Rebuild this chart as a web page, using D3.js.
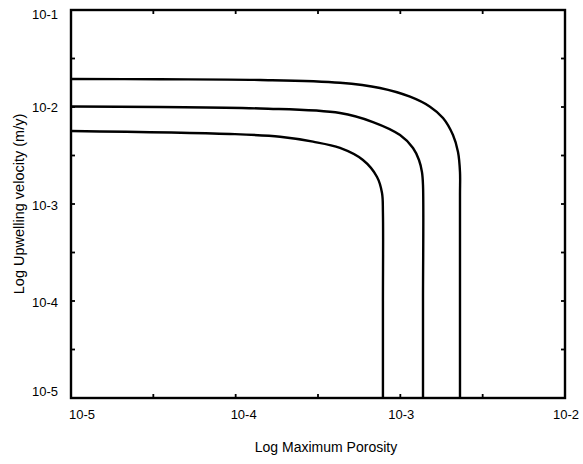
<!DOCTYPE html>
<html>
<head>
<meta charset="utf-8">
<script src="https://cdn.jsdelivr.net/npm/d3@7"></script>
<style>
  html, body { margin: 0; padding: 0; background: #fff; }
  svg { display: block; }
  text { font-family: "Liberation Sans", Arial, Helvetica, sans-serif; fill: #000; }
</style>
</head>
<body>
<svg id="chart" width="583" height="464"></svg>
<script>
// ---- data ----
const xTickValues = [1e-5, 1e-4, 1e-3, 1e-2];
const xTickLabels = ["10-5", "10-4", "10-3", "10-2"];
const yTickValues = [1e-1, 1e-2, 1e-3, 1e-4, 1e-5];
const yTickLabels = ["10-1", "10-2", "10-3", "10-4", "10-5"];
const xMinorExponents = [-4.5, -3.5, -2.5];
const yMinorExponents = [-1.5, -2.5, -3.5, -4.5];

// curve 1 (innermost)
const curve1Porosity = [1e-5, 9.24e-5, 1.86e-4, 2.95e-4, 4.30e-4, 5.93e-4, 7.22e-4, 7.74e-4, 7.84e-4, 7.84e-4, 7.84e-4];
const curve1Velocity = [0.00566, 0.00527, 0.00494, 0.00439, 0.00378, 0.00284, 0.00190, 0.00130, 8.1e-4, 1e-4, 1e-5];
// curve 2 (middle)
const curve2Porosity = [1e-5, 1.41e-4, 4.30e-4, 6.82e-4, 9.96e-4, 1.194e-3, 1.298e-3, 1.353e-3, 1.373e-3, 1.373e-3, 1.373e-3];
const curve2Velocity = [0.01012, 0.00965, 0.00867, 0.00700, 0.00514, 0.00378, 0.00284, 0.00214, 0.00157, 1e-4, 1e-5];
// curve 3 (outermost)
const curve3Porosity = [1e-5, 3.47e-5, 1.41e-4, 4.30e-4, 7.52e-4, 1.145e-3, 1.514e-3, 1.816e-3, 2.088e-3, 2.240e-3, 2.303e-3, 2.303e-3, 2.303e-3, 2.303e-3];
const curve3Velocity = [0.01944, 0.0193, 0.0190, 0.0178, 0.0157, 0.01277, 0.01007, 0.00770, 0.00514, 0.00344, 0.00214, 0.00124, 1e-4, 1e-5];

const series = [
  {x: curve1Porosity, y: curve1Velocity},
  {x: curve2Porosity, y: curve2Velocity},
  {x: curve3Porosity, y: curve3Velocity}
];

// ---- layout ----
const svg = d3.select("#chart");
const mLeft = 71, mRight = 565, mTop = 10, mBottom = 398;

const x = d3.scaleLog().domain([1e-5, 1e-2]).range([mLeft, mRight]);
const y = d3.scaleLog().domain([1e-5, 1e-1]).range([mBottom, mTop]);

const allX = xTickValues.concat(xMinorExponents.map(e => Math.pow(10, e)));
const allY = yTickValues.concat(yMinorExponents.map(e => Math.pow(10, e)));

// ticks (inward, all four sides)
const tl = 4;
const tg = svg.append("g").attr("stroke", "#000").attr("stroke-width", 1.8);
allX.forEach(v => {
  tg.append("line").attr("x1", x(v)).attr("x2", x(v)).attr("y1", mBottom).attr("y2", mBottom - tl);
  tg.append("line").attr("x1", x(v)).attr("x2", x(v)).attr("y1", mTop).attr("y2", mTop + tl);
});
allY.forEach(v => {
  tg.append("line").attr("y1", y(v)).attr("y2", y(v)).attr("x1", mLeft).attr("x2", mLeft + tl);
  tg.append("line").attr("y1", y(v)).attr("y2", y(v)).attr("x1", mRight).attr("x2", mRight - tl);
});

// frame
svg.append("rect")
  .attr("x", mLeft).attr("y", mTop)
  .attr("width", mRight - mLeft).attr("height", mBottom - mTop)
  .attr("fill", "none").attr("stroke", "#000").attr("stroke-width", 2.4);

// tick labels
const xAdj = [11, 8, 1, 1];
xTickValues.forEach((v, i) => {
  svg.append("text")
    .attr("x", x(v) + xAdj[i]).attr("y", 419)
    .attr("text-anchor", "middle").attr("font-size", 13)
    .text(xTickLabels[i]);
});
const yAdj = [4, 0, 1, 1, -7];
yTickValues.forEach((v, i) => {
  svg.append("text")
    .attr("x", 58).attr("y", y(v) + yAdj[i] + 4.5)
    .attr("text-anchor", "end").attr("font-size", 13)
    .text(yTickLabels[i]);
});

// axis titles
svg.append("text")
  .attr("x", 326).attr("y", 452)
  .attr("text-anchor", "middle").attr("font-size", 14)
  .text("Log Maximum Porosity");
svg.append("text")
  .attr("transform", "translate(24,204) rotate(-90)")
  .attr("text-anchor", "middle").attr("font-size", 14.5)
  .text("Log Upwelling velocity (m/y)");

// curves
const line = d3.line()
  .x(d => x(d[0])).y(d => y(d[1]))
  .curve(d3.curveCatmullRom.alpha(0.5));

series.forEach(s => {
  const pts = s.x.map((v, i) => [v, s.y[i]]);
  svg.append("path")
    .attr("d", line(pts))
    .attr("fill", "none").attr("stroke", "#000").attr("stroke-width", 2.4);
});
</script>
</body>
</html>
